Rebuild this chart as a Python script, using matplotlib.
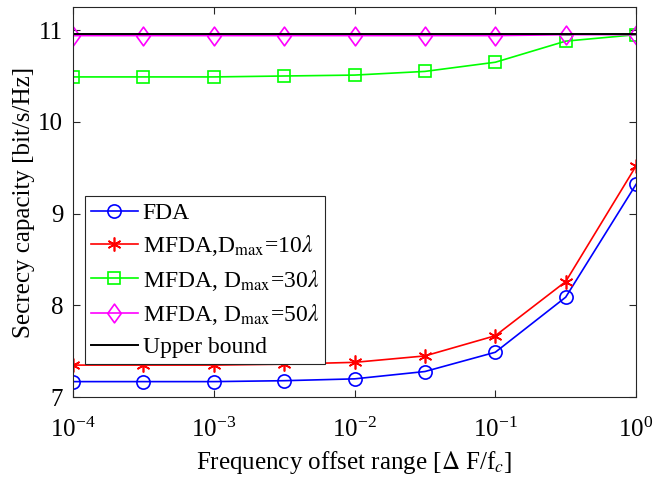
import matplotlib
matplotlib.use("Agg")
import matplotlib.pyplot as plt
from matplotlib.path import Path
import numpy as np

plt.rcParams['font.family'] = ['Liberation Serif', 'DejaVu Serif']
plt.rcParams['mathtext.fontset'] = 'stix'

x_exponents = [-4, -3.5, -3, -2.5, -2, -1.5, -1, -0.5, 0]
fda = [7.17, 7.17, 7.17, 7.18, 7.20, 7.28, 7.49, 8.09, 9.32]
mfda10 = [7.35, 7.35, 7.35, 7.36, 7.38, 7.45, 7.67, 8.26, 9.52]
mfda30 = [10.49, 10.49, 10.49, 10.50, 10.51, 10.55, 10.65, 10.88, 10.95]
mfda50 = [10.94, 10.94, 10.94, 10.94, 10.94, 10.94, 10.94, 10.95, 10.95]
upper = [10.96, 10.96, 10.96, 10.96, 10.96, 10.96, 10.96, 10.96, 10.96]

labels = ["FDA",
          r"MFDA,D$_{\mathrm{max}}$=10$\lambda$",
          r"MFDA, D$_{\mathrm{max}}$=30$\lambda$",
          r"MFDA, D$_{\mathrm{max}}$=50$\lambda$",
          "Upper bound"]
xticks = [1e-4, 1e-3, 1e-2, 1e-1, 1e0]
yticks = [7, 8, 9, 10, 11]

xv = 10.0 ** np.array(x_exponents)

diamond = Path([(0, 1), (0.72, 0), (0, -1), (-0.72, 0), (0, 1)],
               [Path.MOVETO, Path.LINETO, Path.LINETO, Path.LINETO, Path.CLOSEPOLY])

fig = plt.figure(figsize=(6.54, 4.78), dpi=100)
ax = fig.add_axes([0.1116, 0.169, 0.861, 0.816])

ax.plot(xv, fda, color=(0, 0, 1), marker='o', ms=9.5, mfc='none', mew=1.2, lw=1.2, label=labels[0])
ax.plot(xv, mfda10, color=(1, 0, 0), marker=(6, 2, 0), ms=10, mfc='none', mew=1.2, lw=1.2, label=labels[1])
ax.plot(xv, mfda30, color=(0, 1, 0), marker='s', ms=8, mfc='none', mew=1.2, lw=1.2, label=labels[2])
ax.plot(xv, mfda50, color=(1, 0, 1), marker=diamond, ms=13.5, mfc='none', mew=1.2, lw=1.2, label=labels[3])
ax.plot(xv, upper, color='black', lw=1.4, label=labels[4])

ax.set_xscale('log')
ax.set_xlim(1e-4, 1e0)
ax.set_ylim(7, 11.25)
ax.set_xticks(xticks)
ax.set_yticks(yticks)
ax.minorticks_off()
ax.tick_params(direction='in', top=True, right=True, labelsize=18, length=5, width=0.8, color='#262626')
ax.tick_params(axis='x', pad=15)
ax.tick_params(axis='y', pad=7)
for s in ax.spines.values():
    s.set_color('#262626')
    s.set_linewidth(0.8)

ax.set_xlabel(r"Frequency offset range [$\Delta$ F/f$_c$]", fontsize=18, labelpad=5)
ax.set_ylabel("Secrecy capacity [bit/s/Hz]", fontsize=18, labelpad=2)

leg = ax.legend(loc='lower left', bbox_to_anchor=(0.021, 0.085), fontsize=17, frameon=True,
                fancybox=False, edgecolor='#262626', framealpha=1, borderpad=0.25,
                labelspacing=0.4, handlelength=2.0, handletextpad=0.2, borderaxespad=0)
leg.get_frame().set_linewidth(0.8)

fig.savefig("out.png", dpi=100)
